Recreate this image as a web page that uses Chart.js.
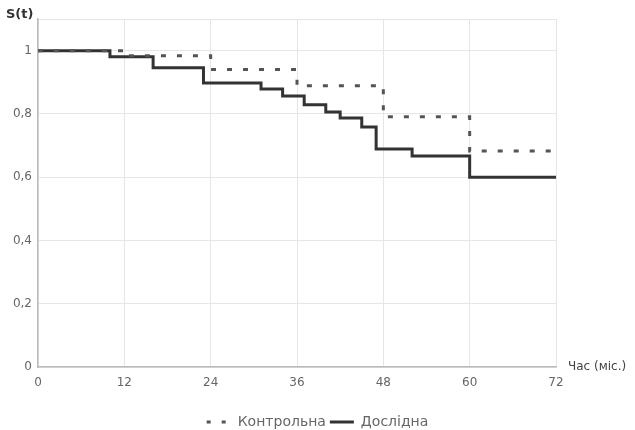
<!DOCTYPE html>
<html>
<head>
<meta charset="utf-8">
<script src="https://cdn.jsdelivr.net/npm/chart.js@4/dist/chart.umd.min.js"></script>
<style>
  html, body { margin: 0; padding: 0; background: #fff; }
  #wrap { width: 635px; height: 430px; }
</style>
</head>
<body>
<div id="wrap"><canvas id="km"></canvas></div>
<script>
// months and survival values
const controlTimes = [0, 12, 24, 36, 48, 60, 72];
const controlSurv = [1, 0.984, 0.94, 0.889, 0.791, 0.683, 0.683];

const studyTimes = [0, 10, 16, 23, 31, 34, 37, 40, 42, 45, 47, 52, 60, 72];
const studySurv = [1, 0.981, 0.946, 0.898, 0.879, 0.857, 0.829, 0.806, 0.787, 0.759, 0.689, 0.667, 0.60, 0.60];

const xTicks = [0, 12, 24, 36, 48, 60, 72];
const yTicks = [0, 0.2, 0.4, 0.6, 0.8, 1];

const FONT = '"DejaVu Sans", Verdana, sans-serif';

const toPoints = (ts, vs) => ts.map((t, i) => ({ x: t, y: vs[i] }));

const axisTitles = {
  id: 'axisTitles',
  afterDraw(chart) {
    const { ctx, chartArea } = chart;
    ctx.save();
    ctx.fillStyle = '#333';
    ctx.font = 'bold 13px ' + FONT;
    ctx.textBaseline = 'middle';
    ctx.textAlign = 'left';
    ctx.fillText('S(t)', 6, 15);
    ctx.font = '12px ' + FONT;
    ctx.fillStyle = '#444';
    ctx.fillText('Час (міс.)', chartArea.right + 12, chartArea.bottom);
    ctx.restore();
  }
};

const ctx = document.getElementById('km').getContext('2d');
new Chart(ctx, {
  type: 'line',
  data: {
    datasets: [
      {
        label: 'Контрольна',
        data: toPoints(controlTimes, controlSurv),
        borderColor: '#555',
        borderWidth: 3,
        borderDash: [5, 11],
        stepped: true,
        pointRadius: 0,
        fill: false
      },
      {
        label: 'Дослідна',
        data: toPoints(studyTimes, studySurv),
        borderColor: '#333',
        borderWidth: 3,
        stepped: true,
        pointRadius: 0,
        fill: false
      }
    ]
  },
  options: {
    responsive: true,
    maintainAspectRatio: false,
    animation: false,
    layout: { padding: { top: 19, right: 0, left: 0, bottom: -9 } },
    plugins: {
      tooltip: { enabled: false },
      legend: {
        position: 'bottom',
        labels: {
          usePointStyle: true,
          pointStyle: 'line',
          pointStyleWidth: 24,
          boxHeight: 3,
          color: '#666',
          font: { family: FONT, size: 14 },
          padding: 4,
          generateLabels: chart => chart.data.datasets.map((ds, i) => ({
            text: ds.label,
            datasetIndex: i,
            fillStyle: ds.borderColor,
            strokeStyle: ds.borderColor,
            fontColor: '#666',
            lineWidth: 3,
            lineDash: ds.borderDash ? [4, 11] : [],
            pointStyle: 'line',
            hidden: false
          }))
        }
      }
    },
    scales: {
      x: {
        type: 'linear',
        min: 0,
        max: 72,
        afterBuildTicks: s => { s.ticks = xTicks.map(v => ({ value: v })); },
        afterFit: s => { s.height = 44; },
        grid: { color: '#e6e6e6', drawTicks: false },
        border: { color: '#bbb', width: 1.5 },
        ticks: {
          padding: 9,
          color: '#666',
          font: { family: FONT, size: 12 }
        }
      },
      y: {
        type: 'linear',
        min: 0,
        max: 1.1,
        afterBuildTicks: s => { s.ticks = yTicks.concat([1.1]).map(v => ({ value: v })); },
        afterFit: s => { s.width = 38; },
        grid: { color: '#e6e6e6', drawTicks: false },
        border: { color: '#bbb', width: 1.5 },
        ticks: {
          padding: 6,
          color: '#666',
          font: { family: FONT, size: 12 },
          callback: v => (v > 1.05 ? '' : String(Math.round(v * 10) / 10).replace('.', ','))
        }
      },
      // empty right gutter for the "Час (міс.)" label, keeps the legend centred on the page
      gutter: {
        type: 'linear',
        position: 'right',
        afterFit: s => { s.width = 79; },
        grid: { display: false },
        border: { display: false },
        ticks: { display: false }
      }
    }
  },
  plugins: [axisTitles]
});
</script>
</body>
</html>
